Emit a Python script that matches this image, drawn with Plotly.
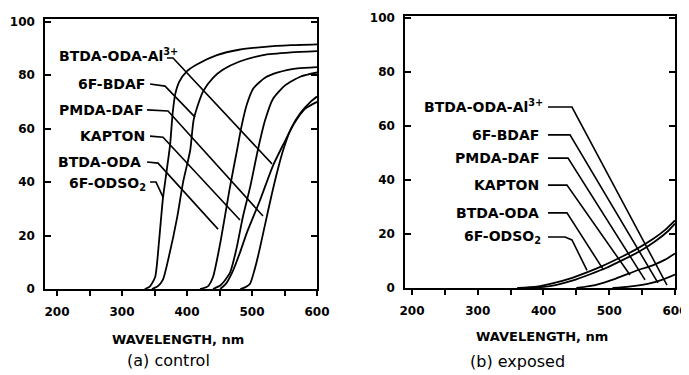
import plotly.graph_objects as go

# ---------------- data: (a) control ----------------
wl_odso2 = [335, 343, 351, 357, 363, 368, 374, 378, 382, 388, 400, 415, 446, 480, 520, 560, 600]
tr_odso2 = [0, 1, 4.5, 18, 34, 43, 54, 66, 73, 77.5, 81.5, 84, 87.5, 89.5, 90.6, 91.2, 91.5]
wl_bdaf = [346, 355, 363, 372, 385, 394, 405, 410, 417, 425, 440, 455, 480, 517, 560, 600]
tr_bdaf = [0, 1, 3.5, 12, 27, 40, 52, 63, 69, 74, 79, 82, 85, 87.5, 88.5, 89]
wl_c = [420, 432, 440, 451, 466, 477, 484, 492, 502, 520, 540, 570, 600]
tr_c = [0, 1, 4.5, 17, 38, 52, 61, 69, 75, 79, 81, 82.5, 83]
wl_d = [440, 452, 466, 476, 486, 497, 509, 520, 532, 550, 575, 600]
tr_d = [0, 1.5, 6, 15, 27, 38, 52, 63, 71, 76, 79.5, 81]
wl_e = [451, 460, 471, 482, 492, 512, 532, 548, 565, 582, 600]
tr_e = [0, 2, 7, 14, 21, 33, 46, 54, 62, 67.5, 70]
wl_f = [482, 490, 497, 508, 520, 530, 540, 548, 560, 575, 590, 600]
tr_f = [0, 0.7, 2, 11, 24, 35, 45, 52, 60, 66, 70, 72]
control_curves = [(wl_odso2, tr_odso2), (wl_bdaf, tr_bdaf), (wl_c, tr_c),
                  (wl_d, tr_d), (wl_e, tr_e), (wl_f, tr_f)]

# ---------------- data: (b) exposed ----------------
wl_r1 = [360, 390, 415, 440, 466, 490, 516, 540, 567, 585, 600]
tr_r1 = [0, 0.5, 1.8, 3.5, 5.8, 8.2, 11.2, 14.2, 18.2, 21.5, 25]
wl_r2 = [375, 400, 420, 445, 470, 495, 520, 545, 570, 590, 600]
tr_r2 = [0, 0.4, 1.2, 2.8, 5, 7.4, 10.3, 13.4, 17.3, 21.2, 23.8]
wl_r3 = [450, 480, 510, 540, 567, 585, 600]
tr_r3 = [0, 1.2, 3.5, 6.3, 8.5, 10.5, 12.8]
wl_r4 = [505, 530, 560, 580, 600]
tr_r4 = [0, 0.5, 1.6, 3, 5]
exposed_curves = [(wl_r1, tr_r1), (wl_r2, tr_r2), (wl_r3, tr_r3), (wl_r4, tr_r4)]

# ---------------- labels ----------------
labels = ["BTDA-ODA-Al<sup>3+</sup>", "6F-BDAF", "PMDA-DAF", "KAPTON", "BTDA-ODA", "6F-ODSO<sub>2</sub>"]
# label anchor (right edge) positions in data units
lab_a_x = [389, 338.5, 335.4, 338.5, 332.3, 340]
lab_a_y = [87.6, 76.7, 67, 57.2, 47.5, 39.2]
lab_b_x = [402, 396.2, 396.2, 396.2, 396.2, 399]
lab_b_y = [67.2, 56.7, 48.1, 38.1, 27.8, 18.7]

# leader lines (data units)
lead_a_x = [[369.2, 378.5, 530.8], [343.1, 366.2, 412.3], [338.5, 370.8, 516.9],
            [343.1, 363.1, 481.5], [338.5, 355.4, 447.7], [343.1, 352.3, 363.1]]
lead_a_y = [[86.4, 86.4, 46.8], [76.7, 75.9, 64.3], [67, 66.6, 27.3],
            [57.2, 56.8, 25.8], [47.5, 47.1, 22.4], [40, 40, 34.4]]
lead_b_x = [[406.8, 443.3, 587.8], [406.8, 440.3, 574.1], [406.8, 437.3, 554.4],
            [406.8, 435.7, 531.6], [406.8, 435.7, 490.5], [406.8, 432.7, 443.3, 466.2]]
lead_b_y = [[67, 67, 1.1], [56.7, 56.7, 1.9], [48.1, 48.1, 3],
            [38.1, 38.1, 4.8], [27.8, 27.8, 7], [18.9, 18.9, 17.8, 6.5]]

x_ticks = [200, 300, 400, 500, 600]
x_minor = [250, 350, 450, 550]
y_ticks = [0, 20, 40, 60, 80, 100]

# the page body shifts the figure by 8px; positions below are window pixels
OFF = 8
W, H = 689, 375


def px_x(px):
    return (px - OFF) / W


def px_y(py):
    return (OFF + H - py) / H


fig = go.Figure()
LW = 1.8
for wl, tr in control_curves:
    fig.add_trace(go.Scatter(x=wl, y=tr, mode="lines", line=dict(color="black", width=LW, shape="spline", smoothing=0.6),
                             xaxis="x", yaxis="y", showlegend=False, hoverinfo="skip"))
for lx, ly in zip(lead_a_x, lead_a_y):
    fig.add_trace(go.Scatter(x=lx, y=ly, mode="lines", line=dict(color="black", width=1.6),
                             xaxis="x", yaxis="y", showlegend=False, hoverinfo="skip"))
for wl, tr in exposed_curves:
    fig.add_trace(go.Scatter(x=wl, y=tr, mode="lines", line=dict(color="black", width=LW, shape="spline", smoothing=0.6),
                             xaxis="x2", yaxis="y2", showlegend=False, hoverinfo="skip"))
for lx, ly in zip(lead_b_x, lead_b_y):
    fig.add_trace(go.Scatter(x=lx, y=ly, mode="lines", line=dict(color="black", width=1.6),
                             xaxis="x2", yaxis="y2", showlegend=False, hoverinfo="skip"))

tickfont = dict(family="DejaVu Sans", size=12, color="black", weight="bold")
labfont = dict(family="DejaVu Sans", size=14, color="black", weight="bold")


def xax(domain, rng):
    return dict(domain=domain, range=rng, tickmode="array", tickvals=x_ticks, ticks="outside", ticklen=5,
                tickwidth=1.5, tickcolor="black", automargin=False, ticklabeloverflow="allow",
                minor=dict(tickvals=x_minor, ticks="outside", ticklen=5, tickwidth=1.5,
                           tickcolor="black", showgrid=False),
                showline=True, linecolor="black", linewidth=1.5, mirror=True, showgrid=False,
                zeroline=False, tickfont=tickfont, ticklabelstandoff=6, fixedrange=True)


def yax(domain, rng, anchor):
    return dict(domain=domain, range=rng, anchor=anchor, tickmode="array", tickvals=y_ticks, ticks="inside",
                ticklen=6, tickwidth=1.5, tickcolor="black", showline=True, linecolor="black",
                linewidth=1.5, mirror="ticks", showgrid=False, zeroline=False, tickfont=tickfont,
                ticklabelstandoff=6, fixedrange=True, automargin=False)


fig.update_layout(
    template="none",
    width=W, height=H, margin=dict(l=0, r=0, t=0, b=0, autoexpand=False),
    paper_bgcolor="white", plot_bgcolor="white",
    xaxis=dict(xax([px_x(45), px_x(317)], [181.5, 600]), anchor="y"),
    yaxis=yax([px_y(289), px_y(19)], [0, 101], "x"),
    xaxis2=dict(xax([px_x(405), px_x(675)], [189.4, 600]), anchor="y2"),
    yaxis2=yax([px_y(288), px_y(16)], [0, 100.7], "x2"),
)

ann = []
for t, x, y in zip(labels, lab_a_x, lab_a_y):
    ann.append(dict(text=t, x=x, y=y, xref="x", yref="y", xanchor="right", yanchor="middle",
                    showarrow=False, font=labfont))
for t, x, y in zip(labels, lab_b_x, lab_b_y):
    ann.append(dict(text=t, x=x, y=y, xref="x2", yref="y2", xanchor="right", yanchor="middle",
                    showarrow=False, font=labfont))
ttl = dict(family="DejaVu Sans", size=13, color="black", weight="bold")
cap = dict(family="DejaVu Sans", size=16, color="black")
ann.append(dict(text="WAVELENGTH, nm", x=px_x(178), y=px_y(339), xref="paper", yref="paper",
                xanchor="center", yanchor="middle", showarrow=False, font=ttl))
ann.append(dict(text="WAVELENGTH, nm", x=px_x(542), y=px_y(336), xref="paper", yref="paper",
                xanchor="center", yanchor="middle", showarrow=False, font=ttl))
ann.append(dict(text="(a) control", x=px_x(168), y=px_y(360), xref="paper", yref="paper",
                xanchor="center", yanchor="middle", showarrow=False, font=cap))
ann.append(dict(text="(b) exposed", x=px_x(518), y=px_y(361), xref="paper", yref="paper",
                xanchor="center", yanchor="middle", showarrow=False, font=cap))
fig.update_layout(annotations=ann)

fig.write_html("out.html")
